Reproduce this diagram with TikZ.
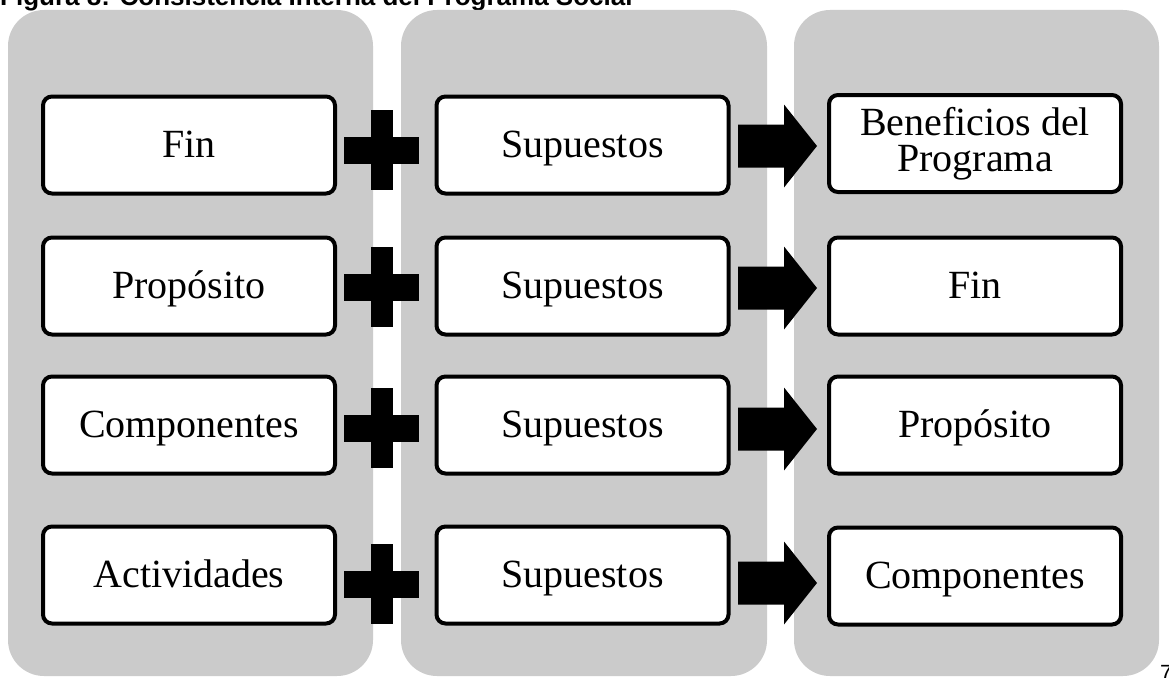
\documentclass[tikz,border=0pt]{standalone}
\usepackage{fontspec}
\setmainfont{Liberation Serif}
\newfontfamily\headfont{Liberation Sans}
\usetikzlibrary{calc,positioning}
\definecolor{colgray}{HTML}{CBCBCB}
\tikzset{
  column/.style={fill=colgray,rounded corners=36pt},
  boxbase/.style={draw,fill=white,line width=4pt,rounded corners=9pt,
    minimum width=292pt,minimum height=97pt,inner sep=0pt,align=center,
    font=\fontsize{40}{36}\selectfont},
  stagebox/.style={boxbase,text height=25pt,text depth=0pt},
  pics/plussign/.style={code={
    \fill (-38,-13.5) rectangle (37,13.5);
    \fill (-11,-40) rectangle (11,40);
  }},
  pics/arrowsign/.style={code={
    \fill (-39.5,-21.5) -- (6.5,-21.5) -- (6.5,-41.5) -- (39.5,0)
      -- (6.5,41.5) -- (6.5,21.5) -- (-39.5,21.5) -- cycle;
  }}
}

\begin{document}
\begin{tikzpicture}[x=1pt,y=-1pt]
\useasboundingbox (0,0) rectangle (1169,677);
\clip (0,0) rectangle (1169,677);

\node[anchor=base west,inner sep=0pt,
  font=\headfont\bfseries\fontsize{26}{26}\selectfont] (title) at (0,6)
  {Figura 8: Consistencia Interna del Programa Social};

% columnas
\fill[column] (8,10) rectangle (373,676);
\fill[column] (401,10) rectangle (767,676);
\fill[column] (794,10) rectangle (1159,676);

% niveles
\node[stagebox] (fin)  at (189,145) {Fin};
\node[stagebox] (prop) at (189,286) {Propósito};
\node[stagebox] (comp) at (189,425) {Componentes};
\node[stagebox] (act)  at (189,575) {Actividades};

\foreach \row/\y in {1/145,2/286,3/425,4/575}
  \node[stagebox] (sup\row) at (582.5,\y) {Supuestos};

\node[boxbase] (res1) at (975,143.5) {Beneficios del\\Programa};
\node[stagebox] (res2) at (975,286) {Fin};
\node[stagebox] (res3) at (975,425) {Propósito};
\node[stagebox] (res4) at (975,576) {Componentes};

% signos
\foreach \py/\ay in {150/146,287/288,428/429,584/583}{
  \pic at (382,\py) {plussign};
  \pic at (777.5,\ay) {arrowsign};
}

\node[anchor=north west,inner sep=0pt,
  font=\headfont\fontsize{22}{22}\selectfont] (pagenum) at (1160,665) {7};
\end{tikzpicture}
\end{document}
